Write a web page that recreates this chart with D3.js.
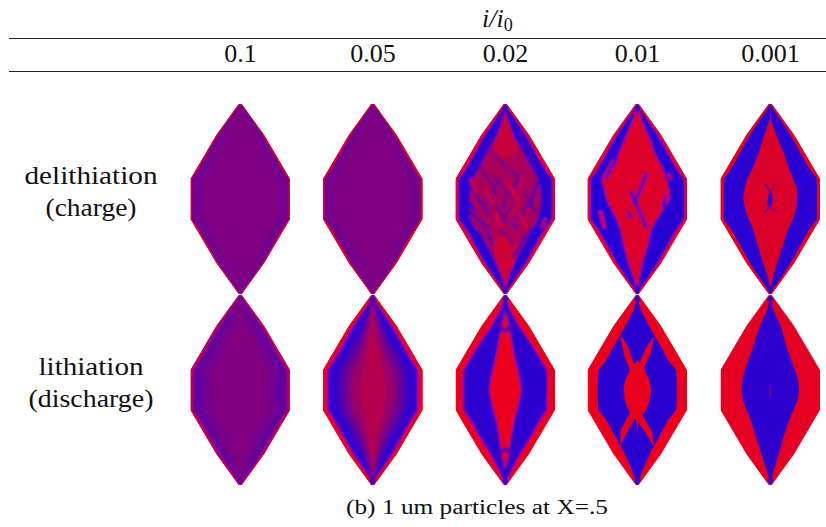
<!DOCTYPE html>
<html lang="en">
<head>
<meta charset="UTF-8">
<title>1 um particles at X=.5</title>
<script src="https://d3js.org/d3.v7.min.js"></script>
<style>
  body {margin: 0; background: white;}
  text {font-family: "Liberation Serif", serif; fill: #111;}
</style>
</head>
<body>
<svg id="canvas" width="826" height="527"></svg>
<script>
const rates = ["0.1", "0.05", "0.02", "0.01", "0.001"];
const rowNames = [["delithiation", "(charge)"], ["lithiation", "(discharge)"]];

// particle outline, half width at distance from the middle
const outlineV = [-95, -64, -20, 20, 64, 95];
const outlineU = [1.5, 24, 50, 50, 24, 1.5];

// every profile below gives a half width at these heights
const rowV = [-95, -80, -64, -45, -30, -20, -10, 0, 10, 20, 30, 45, 64, 80, 95];

// delithiation 0.1
const a1Band = [0.5, 11.5, 22.5, 33.5, 42, 48.8, 48.8, 48.8, 48.8, 48.8, 42, 33.5, 22.5, 11.5, 0.5];
const a1Core = [0, 6, 14, 24, 32, 38, 38, 38, 38, 38, 32, 24, 14, 6, 0];
// delithiation 0.05
const a2Band = [0.4, 11, 22, 33, 41.5, 48.4, 48.4, 48.4, 48.4, 48.4, 41.5, 33, 22, 11, 0.4];
const a2Core = [0, 5, 13, 23, 31, 37, 38, 38, 38, 37, 31, 23, 13, 5, 0];
// delithiation 0.02
const a3Band = [0.8, 10.5, 21, 31.5, 40, 47.5, 47.5, 47.5, 47.5, 47.5, 40, 31.5, 21, 10.5, 0.8];
const a3Core = [0, 2.5, 8, 19, 27, 33, 35, 36, 35, 33, 27, 19, 9, 3, 0];
const a3Patches = [
  [0.84, [[0, -85], [-8, -64], [-13, -48], [0, -40], [13, -48], [8, -64]]],
  [0.86, [[0, 85], [-9, 64], [-13, 45], [0, 35], [13, 45], [9, 64]]]
];
const a3Streaks = [
  [-27, -33, -15, -17, 0.35], [-12, -47, 2, -30, 0.4], [12, -67, 28, -40, 0.2],
  [18, -27, 5, -7, 0.35], [0, -3, -2, 10, 0.3], [-13, -7, -22, 10, 0.3],
  [-38, -17, -22, 7, 0.2], [-43, -7, -30, 12, 0.1], [-38, 10, -18, 30, 0.2],
  [28, -3, 13, 20, 0.3], [43, 10, 33, 30, 0.06], [7, 23, 12, 30, 0.25],
  [-22, 23, -12, 47, 0.25], [25, 30, 8, 57, 0.25], [-12, -23, 8, 0, 0.42],
  [22, -47, 32, -27, 0.15], [32, -17, 25, 7, 0.15],
  [-20, -25, -8, -5, 0.42], [6, -30, 18, -12, 0.42], [-5, -20, -18, 0, 0.42],
  [20, -5, 32, 15, 0.32], [-28, -2, -15, 18, 0.38], [-10, 5, 2, 25, 0.42],
  [8, 5, -5, 25, 0.42], [-5, 30, 8, 45, 0.45],
  [-35, -20, -30, -7, 0.9], [17, -23, 15, -13, 0.9], [-8, 37, -2, 57, 0.9],
  [40, 20, 37, 28, 0.9], [-35, 17, -28, 30, 0.7], [12, 3, 8, 13, 0.9],
  [-20, -10, -12, 5, 0.95], [3, -15, 12, 0, 0.95], [-10, 15, -3, 28, 0.95], [15, 15, 22, 30, 0.9]
];
// delithiation 0.01
const a4Band = [0.8, 10.5, 21, 31.5, 40, 47.5, 47.5, 47.5, 47.5, 47.5, 40, 31.5, 21, 10.5, 0.8];
const a4CoreLeft = [0, 4, 10.7, 19, 27, 36, 33, 31, 26, 21, 17, 14, 9, 3, 0];
const a4CoreRight = [0, 4, 11, 18, 26, 29, 32, 33, 26, 20, 14, 11, 5.3, 2, 0];
const a4Streaks = [
  [-24, -38, -33, -23, 0.95], [9, -25, -2, 3, 0.08], [-2, 3, 9, 28, 0.08],
  [-6, -7, -2, 5, 0.1], [-21, -40, -31, -22, 0.04], [-37, 13, -33, 28, 1],
  [29, -3, 26, 7, 0.1], [-9, 13, -6, 18, 0.2], [31, -25, 34, -20, 0.8]
];
// delithiation 0.001
const a5Band = [0.7, 10, 20.5, 31, 39.5, 47, 47, 47, 47, 47, 39.5, 31, 20.5, 10, 0.7];
const a5CoreLeft = [0, 0.5, 6, 12, 18, 23, 26, 27, 25, 22, 17, 13, 7, 2, 0];
const a5CoreRight = [0, 0.5, 6, 14, 19, 23, 27, 27, 26, 23, 18, 13, 7, 2, 0];
const a5Patches = [
  [0.05, [[-1, -7], [2, -7], [2, 5], [-1, 9], [-3, 5], [-2, -2]]]
];
const a5Streaks = [
  [-5, -15, 0, -7, 0.45], [5, -15, 0, -7, 0.6], [-1, 8, -5, 13, 0.5], [0, 8, 7, 13, 0.65]
];
// lithiation 0.1
const b1Band = [0.3, 11, 22, 33, 41.5, 48, 48, 48, 48, 48, 41.5, 33, 22, 11, 0.3];
const b1Mid = [0, 6, 14, 24, 32, 38, 36, 34, 36, 38, 32, 24, 14, 6, 0];
const b1Core = [0, 2, 6, 14, 22, 27, 30, 30, 30, 27, 22, 14, 6, 2, 0];
// lithiation 0.05
const b2Band = [0.5, 9.5, 20, 30.5, 39, 45.5, 45.5, 45.5, 45.5, 45.5, 39, 30.5, 20, 9.5, 0.5];
const b2Step1 = [0, 4, 10, 20, 28, 33, 34, 35, 34, 33, 28, 20, 10, 4, 0];
const b2Step2 = [0, 2.5, 7, 14, 22, 27, 28, 28, 28, 27, 22, 14, 7, 2.5, 0];
const b2Step3 = [0, 1.5, 4, 9, 15, 20, 22, 23, 22, 20, 15, 9, 4, 1.5, 0];
const b2Step4 = [0, 0.5, 2, 5, 8, 10, 12, 14, 12, 10, 8, 5, 2, 0.5, 0];
// lithiation 0.02
const b3Band = [0, 5, 14, 27, 36, 42, 42.5, 42.5, 42, 42, 35, 27, 15, 6.5, 0];
const b3Core = [0, 0, 3.5, 7, 10, 12.5, 14.5, 16, 14, 12, 9, 6, 3.5, 0, 0];
const b3Streaks = [
  [-7, -65, 0, -59, 0.28], [7, -65, 0, -59, 0.28], [-7, 65, 0, 59, 0.28], [7, 63, 0, 59, 0.28]
];
// lithiation 0.01
const b4Band = [0, 3.5, 12, 23, 31, 39, 39.8, 39.8, 39.8, 39, 31, 23, 12.5, 5.5, 0];
const b4Core = [0, 0, 0, 0, 0, 7.5, 12, 14, 12.5, 9, 1, 0, 0, 0, 0];
const b4Patches = [
  [1, [[-17.5, -56], [-9.5, -44], [-2.5, -24], [-6.5, -18], [-13, -34]]],
  [1, [[17, -54], [13.5, -37], [6, -21], [2, -26], [8.5, -42]]],
  [1, [[-17.5, 56], [-16.5, 40], [-6.5, 21], [-1.5, 27], [-10, 42]]],
  [1, [[17, 57], [8.5, 43], [-2.5, 27], [3.5, 22], [15, 42]]]
];
// lithiation 0.001
const b5Left = [0, 3, 10.5, 16.5, 22, 25.5, 28, 29, 27.5, 24, 19.5, 15, 9, 3.5, 0];
const b5Right = [0, 3, 10.5, 16, 21, 25, 28, 29, 27.5, 23.5, 19, 14, 8.5, 3.5, 0];
const b5Patches = [
  [0.4, [[-1, -5], [1, -5], [1, 7], [-1, 7]]]
];

// small dot at the particle tips
const tipTop = [[0, -95], [3, -91], [0, -86], [-3, -91]];
const tipBottom = [[0, 95], [3, 91], [0, 86], [-3, 91]];

// one entry per picture: edge value, then [value, left, right] layers inside it
const panels = [
  {row: 0, col: 0, edge: 0.95, rim: 1.8, blur: 0.5, layers: [[0.41, a1Band, a1Band], [0.47, a1Core, a1Core]]},
  {row: 0, col: 1, edge: 0.95, rim: 2, blur: 0.5, layers: [[0.42, a2Band, a2Band], [0.47, a2Core, a2Core]]},
  {row: 0, col: 2, edge: 1, rim: 3.6, blur: 1.3, layers: [[0.06, a3Band, a3Band], [0.68, a3Core, a3Core]], patches: a3Patches, streaks: a3Streaks, streakW: 2.6},
  {row: 0, col: 3, edge: 1, rim: 3.6, blur: 0.8, layers: [[0.04, a4Band, a4Band], [0.93, a4CoreLeft, a4CoreRight]], streaks: a4Streaks, streakW: 3},
  {row: 0, col: 4, edge: 1, rim: 4, blur: 0.7, layers: [[0.05, a5Band, a5Band], [0.92, a5CoreLeft, a5CoreRight]], patches: a5Patches, streaks: a5Streaks, streakW: 2},
  {row: 1, col: 0, edge: 0.9, rim: 1.8, blur: 1.5, layers: [[0.33, b1Band, b1Band], [0.42, b1Mid, b1Mid], [0.48, b1Core, b1Core]]},
  {row: 1, col: 1, edge: 1, rim: 5, blur: 1.6, layers: [[0.08, b2Band, b2Band], [0.25, b2Step1, b2Step1], [0.42, b2Step2, b2Step2], [0.6, b2Step3, b2Step3], [0.74, b2Step4, b2Step4]]},
  {row: 1, col: 2, edge: 1, rim: 0, blur: 0.9, layers: [[0.07, b3Band, b3Band], [1, b3Core, b3Core]], streaks: b3Streaks, streakW: 4},
  {row: 1, col: 3, edge: 1, rim: 0, blur: 0.6, layers: [[0.06, b4Band, b4Band], [1, b4Core, b4Core]], patches: b4Patches},
  {row: 1, col: 4, edge: 0.97, rim: 0, blur: 0.6, layers: [[0.07, b5Left, b5Right]], patches: b5Patches}
];

const svg = d3.select("#canvas");
const color = d3.scaleLinear().domain([0, 1]).range(["#2000dd", "#ea001c"]);

const panelLeft = [190.5, 323, 455.5, 587.5, 720.5];
const panelTop = [104, 295];
const x = d3.scaleLinear().domain([-50, 50]).range([0, 99.5]);
const y = d3.scaleLinear().domain([-95, 95]).range([0, 190]);
const pointsLine = d3.line().x(d => x(d[0])).y(d => y(d[1]));

const outlinePath = d3.line()(
  outlineV.map((v, i) => [x(-outlineU[i]), y(v)])
    .concat(outlineV.map((v, i) => [x(outlineU[i]), y(v)]).reverse())
) + "Z";

const defs = svg.append("defs");
defs.append("clipPath").attr("id", "particle").append("path").attr("d", outlinePath);

panels.forEach((p, n) => {
  const f = defs.append("filter").attr("id", "soft" + n)
    .attr("x", "-10%").attr("y", "-10%").attr("width", "120%").attr("height", "120%");
  f.append("feGaussianBlur").attr("stdDeviation", p.blur);

  const outer = svg.append("g")
    .attr("transform", "translate(" + panelLeft[p.col] + "," + panelTop[p.row] + ")")
    .attr("clip-path", "url(#particle)");
  const g = outer.append("g").attr("filter", "url(#soft" + n + ")");

  // edge colour under everything
  g.append("rect")
    .attr("x", x(-60)).attr("y", y(-105))
    .attr("width", x(60) - x(-60)).attr("height", y(105) - y(-105))
    .attr("fill", color(p.edge));

  const profile = d3.area()
    .y((d, i) => y(rowV[i]));
  p.layers.forEach(l => {
    g.append("path")
      .attr("d", profile.x0((d, i) => x(-l[1][i])).x1((d, i) => x(l[2][i]))(rowV))
      .attr("fill", color(l[0]));
  });

  (p.patches || []).forEach(s => {
    g.append("path")
      .attr("d", pointsLine(s[1]) + "Z")
      .attr("fill", color(s[0]));
  });

  g.selectAll("line.streak").data(p.streaks || []).enter().append("line")
    .attr("class", "streak")
    .attr("x1", d => x(d[0])).attr("y1", d => y(d[1]))
    .attr("x2", d => x(d[2])).attr("y2", d => y(d[3]))
    .attr("stroke", d => color(d[4]))
    .attr("stroke-width", p.streakW)
    .attr("stroke-linecap", "round");

  // crisp red skin, only the inner half of the stroke survives the clip
  if (p.rim > 0) {
    outer.append("path").attr("d", outlinePath)
      .attr("fill", "none")
      .attr("stroke", color(p.edge))
      .attr("stroke-width", p.rim);
  }

  [tipTop, tipBottom].forEach(t => {
    outer.append("path").attr("d", pointsLine(t) + "Z").attr("fill", color(p.layers[0][0]));
  });
});

// table rules
svg.selectAll("line.rule").data([38, 71]).enter().append("line")
  .attr("class", "rule")
  .attr("x1", 9).attr("x2", 826)
  .attr("y1", d => d + 0.5).attr("y2", d => d + 0.5)
  .attr("stroke", "#222").attr("stroke-width", 1);

// heading i/i0
const head = svg.append("text").attr("x", 482).attr("y", 27).attr("font-size", 26);
head.append("tspan").attr("font-style", "italic").text("i/i");
head.append("tspan").attr("font-size", 18).attr("dy", 4).text("0");

svg.selectAll("text.rate").data(rates).enter().append("text")
  .attr("class", "rate")
  .attr("x", (d, i) => panelLeft[i] + 50)
  .attr("y", 62)
  .attr("font-size", 26)
  .attr("text-anchor", "middle")
  .text(d => d);

// row labels, stretched a bit since Computer Modern runs wider
const labelY = [[184, 216], [375, 407]];
const labelW = [[133, 91], [105, 125]];
rowNames.forEach((pair, r) => pair.forEach((s, k) => {
  svg.append("text")
    .attr("x", 91).attr("y", labelY[r][k])
    .attr("font-size", 26)
    .attr("text-anchor", "middle")
    .attr("textLength", labelW[r][k])
    .attr("lengthAdjust", "spacingAndGlyphs")
    .text(s);
}));

svg.append("text")
  .attr("x", 346).attr("y", 514)
  .attr("font-size", 20)
  .attr("textLength", 262)
  .attr("lengthAdjust", "spacingAndGlyphs")
  .text("(b) 1 um particles at X=.5");
</script>
</body>
</html>
